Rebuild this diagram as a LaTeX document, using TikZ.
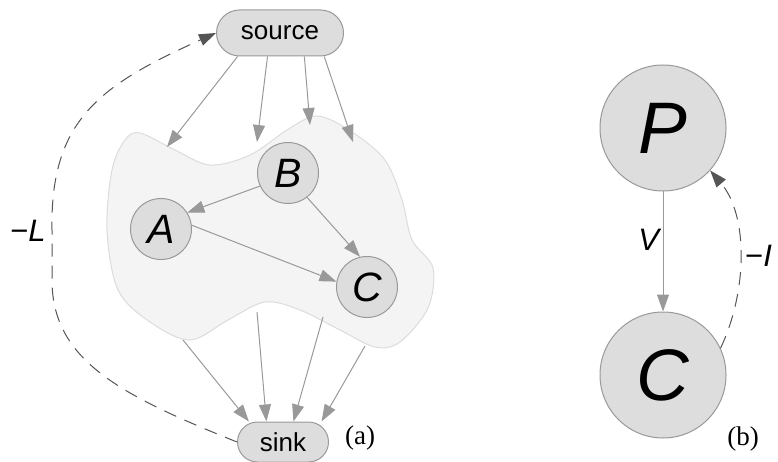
\documentclass[tikz,border=0pt]{standalone}
\usepackage{fontspec}
\setmainfont{Liberation Sans}
\newfontfamily\serifcap{Liberation Serif}
\usetikzlibrary{arrows.meta}
\definecolor{nodefill}{HTML}{DDDDDD}
\definecolor{nodeline}{HTML}{999999}
\definecolor{edgec}{HTML}{999999}
\definecolor{dashc}{HTML}{555555}
\definecolor{blobfill}{HTML}{F4F4F4}
\definecolor{blobline}{HTML}{DCDCDC}
\begin{document}
\begin{tikzpicture}[x=1pt,y=-1pt,
  pill/.style={draw=nodeline, fill=nodefill, line width=1pt, rounded corners=#1,
    inner sep=0pt, font=\fontsize{26}{30}\selectfont},
  smallc/.style={circle, draw=nodeline, fill=nodefill, line width=1pt, minimum size=61pt,
    inner sep=0pt, font=\fontsize{41}{45}\selectfont\itshape},
  bigc/.style={circle, draw=nodeline, fill=nodefill, line width=1pt, minimum size=126pt,
    inner sep=0pt, font=\fontsize{73}{77}\selectfont\itshape},
  edge/.style={draw=edgec, line width=1pt, -{Triangle[length=17pt,width=12pt]}},
  dedge/.style={draw=dashc, line width=1pt, dash pattern=on 13pt off 9pt,
    -{Triangle[length=17pt,width=12pt]}},
  lab/.style={font=\fontsize{31}{34}\selectfont, inner sep=0pt},
  caplab/.style={font=\serifcap\fontsize{27}{30}\selectfont, inner sep=0pt}]
\useasboundingbox (0,0) rectangle (778,462);
% blob
\draw[fill=blobfill, draw=blobline, line width=1pt] plot[smooth cycle, tension=0.55] coordinates {
 (140,133) (175,150) (210,165) (250,155) (290,128) (318,116) (352,132) (385,160)
 (402,200) (412,240) (433,268) (428,308) (400,342) (375,347) (340,330) (300,310)
 (265,302) (228,320) (190,340) (150,322) (118,290) (107,230) (112,170) (125,140)};
% nodes
\node[pill=23pt, minimum width=127pt, minimum height=46pt] (source) at (280,33) {source};
\node[pill=20pt, minimum width=91pt, minimum height=40pt] (sink) at (283,442) {sink};
\node[smallc] (B) at (288,173) {B};
\node[smallc] (A) at (161,229) {A};
\node[smallc] (C) at (367,287) {C};
\node[bigc] (P) at (663,128) {P};
\node[bigc] (C2) at (663,375) {C};
\node[caplab] (capa) at (360,438) {(a)};
\node[caplab] (capb) at (743,439) {(b)};
% free ends in the blob
\coordinate (b1) at (167,147);
\coordinate (b2) at (257,142);
\coordinate (b3) at (310,125);
\coordinate (b4) at (353,142);
\coordinate (c1) at (183,340);
\coordinate (c2) at (257,312);
\coordinate (c3) at (323,317);
\coordinate (c4) at (365,346);
% edges
\draw[edge] (source.-151) -- (b1);
\draw[edge] (source.-118) -- (b2);
\draw[edge] (source.-44) -- (b3);
\draw[edge] (source.-28) -- (b4);
\draw[edge] (c1) -- (sink.149);
\draw[edge] (c2) -- (sink.129);
\draw[edge] (c3) -- (sink.63);
\draw[edge] (c4) -- (sink.28);
\draw[edge] (B.205) -- (A.32);
\draw[edge] (B.-52) -- (C.103);
\draw[edge] (A.7) -- (C.170);
\draw[edge] (P) -- (C2);
% dashed feedback
\draw[dedge] (sink.west) .. controls (120,395) and (52,360) .. (52,280)
  -- (52,230) .. controls (50,120) and (100,85) .. (source.west);
\draw[dedge] (C2.25) .. controls (748,290) and (748,215) .. (P.-42);
% labels
\node[lab] (lL) at (28,231) {−\textit{L}};
\node[lab] (lV) at (650,240) {\textit{V}};
\node[lab, anchor=west] (lI) at (745,256) {−\textit{I}};
\end{tikzpicture}
\end{document}
